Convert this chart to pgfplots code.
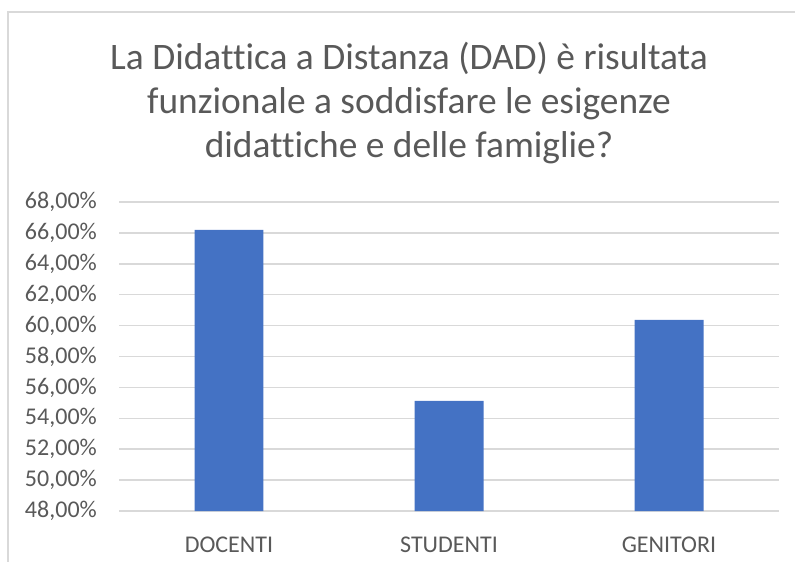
\documentclass[border=0pt]{standalone}
\usepackage{fontspec}
\setmainfont[Ligatures=NoCommon]{Carlito}
\usepackage{pgfplots}
\pgfplotsset{compat=1.18}
\definecolor{barblue}{HTML}{4472C4}
\definecolor{txtgray}{HTML}{595959}
\definecolor{gridgray}{HTML}{D9D9D9}
\begin{document}
\begin{tikzpicture}[x=1pt,y=1pt]
  \useasboundingbox (0,0) rectangle (795,562);
  % chart frame (cut at right and bottom)
  \draw[gridgray, line width=1.5pt] (8,0) -- (8,550) -- (795,550);
  % title
  \begin{scope}[every node/.style={anchor=base, text=txtgray, inner sep=0pt,
      font=\fontsize{37.4}{44}\selectfont}]
    \node at (409,492) {La Didattica a Distanza (DAD) è risultata};
    \node at (409,448) {funzionale a soddisfare le esigenze};
    \node at (409,404) {didattiche e delle famiglie?};
  \end{scope}
  \begin{axis}[
    at={(119pt,51pt)}, anchor=south west,
    scale only axis,
    width=660pt, height=309pt,
    xmin=-0.5, xmax=2.5,
    ymin=48, ymax=68,
    ytick={48,50,...,68},
    yticklabels={{48,00\%},{50,00\%},{52,00\%},{54,00\%},{56,00\%},{58,00\%},
      {60,00\%},{62,00\%},{64,00\%},{66,00\%},{68,00\%}},
    xtick={0,1,2},
    xticklabels={DOCENTI,STUDENTI,GENITORI},
    ymajorgrids,
    grid style={gridgray, line width=1.5pt},
    axis line style={draw=none},
    major tick length=0pt,
    tick label style={font=\fontsize{24}{29}\selectfont, text=txtgray},
    yticklabel style={anchor=east, inner sep=0pt, xshift=-22pt},
    xticklabel style={anchor=north, inner sep=0pt, yshift=-26pt},
  ]
    \addplot[ybar, bar width=0.3136, fill=barblue, draw=none]
      coordinates {(0,66.2) (1,55.13) (2,60.37)};
  \end{axis}
\end{tikzpicture}
\end{document}
